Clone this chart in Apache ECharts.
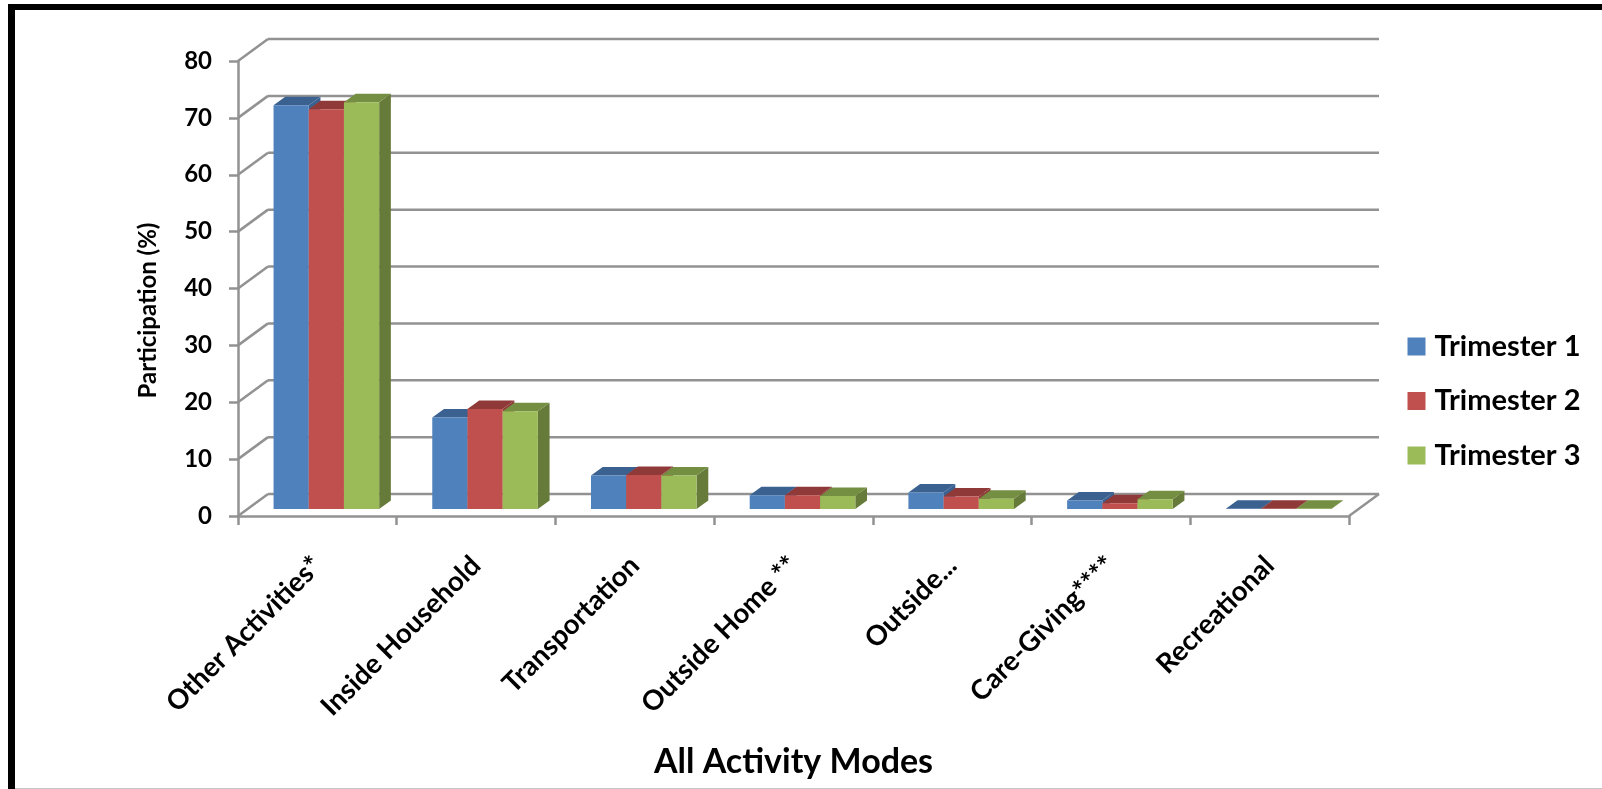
<!DOCTYPE html>
<html>
<head>
<meta charset="utf-8">
<style>html,body{margin:0;padding:0;background:#fff}#chart{width:1602px;height:789px}</style>
<script src="https://cdn.jsdelivr.net/npm/echarts@6/dist/echarts.min.js"></script>
</head>
<body>
<div id="chart"></div>
<script>
// Participation by activity mode across the three trimesters
const categories = ['Other Activities*', 'Inside Household', 'Transportation', 'Outside Home **', 'Outside...', 'Care-Giving****', 'Recreational'];
const trimester1 = [71.0, 16.1, 5.9, 2.4, 2.9, 1.5, 0.05];
const trimester2 = [70.3, 17.6, 6.0, 2.4, 2.2, 1.0, 0.05];
const trimester3 = [71.5, 17.2, 5.9, 2.3, 1.8, 1.7, 0.05];
const valueTicks = [0, 10, 20, 30, 40, 50, 60, 70, 80];

const FONT = 'Lato, "Open Sans", sans-serif';
const GRID_LINE = '#929292';

// Oblique projection used to fake the 3D box
const WALL_DX = 30, WALL_DY = 22;     // front plane to back wall
const BAR_DX = 9, BAR_DY = 7;         // front plane to bar front face
const DEPTH_DX = 11.7, DEPTH_DY = 8.5; // thickness of a bar
const BAR_WIDTH = 35.2;

function wallItem(params, api) {
  const sys = params.coordSys;
  const tick = api.value(1);
  const y = api.coord([0, tick])[1];
  const x0 = sys.x, x1 = sys.x + sys.width;
  const line = (a, b, c, d) => ({
    type: 'line',
    shape: { x1: a, y1: b, x2: c, y2: d },
    style: { stroke: GRID_LINE, lineWidth: 2.5, fill: null }
  });
  const children = [
    line(x0, y, x0 + WALL_DX, y - WALL_DY),
    line(x0 + WALL_DX, y - WALL_DY, x1 + WALL_DX, y - WALL_DY)
  ];
  if (tick === 0) children.push(line(x1, y, x1 + WALL_DX, y - WALL_DY));
  return { type: 'group', children };
}

function barRenderer(slot, colors) {
  return function (params, api) {
    const idx = api.value(0);
    const top = api.coord([idx, api.value(1)]);
    const base = api.coord([idx, 0]);
    const xl = top[0] + BAR_DX + (slot - 1.5) * BAR_WIDTH;
    const xr = xl + BAR_WIDTH;
    const yb = base[1] - BAR_DY;
    const yt = top[1] - BAR_DY;
    const poly = (points, fill) => ({
      type: 'polygon',
      shape: { points },
      style: { fill, stroke: null }
    });
    return {
      type: 'group',
      children: [
        poly([[xr, yb], [xr + DEPTH_DX, yb - DEPTH_DY], [xr + DEPTH_DX, yt - DEPTH_DY], [xr, yt]], colors.side),
        poly([[xl, yt], [xr, yt], [xr + DEPTH_DX, yt - DEPTH_DY], [xl + DEPTH_DX, yt - DEPTH_DY]], colors.top),
        poly([[xl, yb], [xr, yb], [xr, yt], [xl, yt]], colors.front)
      ]
    };
  };
}

function barSeries(name, values, slot, colors) {
  return {
    type: 'custom',
    name,
    z: 3,
    silent: true,
    itemStyle: { color: colors.front },
    encode: { x: 0, y: 1 },
    data: values.map((v, i) => [categories[i], v]),
    renderItem: barRenderer(slot, colors)
  };
}

const chart = echarts.init(document.getElementById('chart'), null, { renderer: 'canvas' });
chart.setOption({
  animation: false,
  backgroundColor: '#ffffff',
  grid: { left: 238, top: 61, width: 1111, height: 455, containLabel: false },
  legend: {
    data: ['Trimester 1', 'Trimester 2', 'Trimester 3'],
    orient: 'vertical',
    left: 1402.5,
    top: 327,
    icon: 'rect',
    itemWidth: 18,
    itemHeight: 18,
    itemGap: 25.5,
    selectedMode: false,
    textStyle: { fontFamily: FONT, fontSize: 29, fontWeight: 'bold', color: '#000', padding: [0, 0, 0, 4] }
  },
  xAxis: {
    type: 'category',
    data: categories,
    boundaryGap: true,
    name: 'All Activity Modes',
    nameLocation: 'middle',
    nameGap: 229,
    nameTextStyle: { fontFamily: FONT, fontSize: 34, fontWeight: 'bold', color: '#000' },
    axisLine: { show: true, lineStyle: { color: GRID_LINE, width: 2.5 } },
    axisTick: { show: true, alignWithLabel: false, length: 9, lineStyle: { color: GRID_LINE, width: 2.5 } },
    axisLabel: { interval: 0, rotate: 45, margin: 45, fontFamily: FONT, fontSize: 27.5, fontWeight: 'bold', color: '#000' },
    splitLine: { show: false }
  },
  yAxis: {
    type: 'value',
    min: 0,
    max: 80,
    interval: 10,
    name: 'Participation (%)',
    nameLocation: 'middle',
    nameGap: 78,
    nameTextStyle: { fontFamily: FONT, fontSize: 24, fontWeight: 'bold', color: '#000', padding: [0, 44, 0, 0] },
    axisLine: { show: true, lineStyle: { color: GRID_LINE, width: 2.5 } },
    axisTick: { show: true, length: 9, lineStyle: { color: GRID_LINE, width: 2.5 } },
    axisLabel: { margin: 26, fontFamily: FONT, fontSize: 24, fontWeight: 'bold', color: '#000' },
    splitLine: { show: false }
  },
  series: [
    {
      type: 'custom',
      name: 'Wall',
      z: 1,
      silent: true,
      encode: { x: 0, y: 1 },
      data: valueTicks.map(t => [categories[0], t]),
      renderItem: wallItem
    },
    barSeries('Trimester 1', trimester1, 0, { front: '#4f81bd', top: '#3a6190', side: '#3a6190' }),
    barSeries('Trimester 2', trimester2, 1, { front: '#c0504d', top: '#8f3a38', side: '#8f3a38' }),
    barSeries('Trimester 3', trimester3, 2, { front: '#9bbb59', top: '#748e42', side: '#667b3a' })
  ],
  graphic: [
    { type: 'rect', z: 100, shape: { x: 8, y: 4, width: 1594, height: 6 }, style: { fill: '#000' } },
    { type: 'rect', z: 100, shape: { x: 8, y: 4, width: 7, height: 785 }, style: { fill: '#000' } },
    { type: 'rect', z: 100, shape: { x: 15, y: 788, width: 1587, height: 1 }, style: { fill: '#c4c4c4' } }
  ]
});
</script>
</body>
</html>
